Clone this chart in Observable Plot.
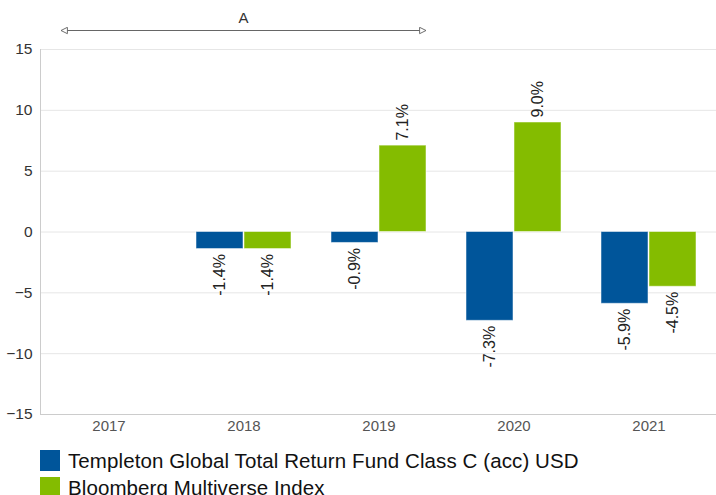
<!DOCTYPE html>
<html><head><meta charset="utf-8">
<script src="https://cdn.jsdelivr.net/npm/d3@7"></script>
<script src="https://cdn.jsdelivr.net/npm/@observablehq/plot@0.6"></script>
<style>
body{margin:0;background:#fff;font-family:"Liberation Sans",Arial,sans-serif;}
#chart svg{display:block}
#legend{margin-left:40px;margin-top:7px}
.item{display:flex;align-items:center;height:27px;font-size:20.5px;color:#111;white-space:nowrap;letter-spacing:0.1px}
.sw{width:20px;height:21px;margin-right:8px;flex:none}
</style></head><body><div id="chart"></div><div id="legend"></div>
<script>
const years = ["2017","2018","2019","2020","2021"];
const fundValues = [null, -1.4, -0.9, -7.3, -5.9];
const indexValues = [null, -1.4, 7.1, 9.0, -4.5];
const seriesNames = ["Templeton Global Total Return Fund Class C (acc) USD", "Bloomberg Multiverse Index"];
const seriesColors = ["#00559a", "#84bc00"];
const yTicks = [-15, -10, -5, 0, 5, 10, 15];
const annotationLabel = "A";
const annotationFrom = "2017";
const annotationTo = "2019";

const fund = years.map((y, i) => ({year: y, value: fundValues[i]})).filter(d => d.value != null);
const index = years.map((y, i) => ({year: y, value: indexValues[i]})).filter(d => d.value != null);
const lbl = d => d.value.toFixed(1) + "%";
const neg = arr => arr.filter(d => d.value < 0);
const pos = arr => arr.filter(d => d.value >= 0);
const textStyle = {fontSize: 16, fill: "#222", rotate: -90};

const plot = Plot.plot({
  width: 716, height: 440,
  marginLeft: 40, marginRight: 0, marginTop: 49, marginBottom: 26,
  style: {fontFamily: "Liberation Sans, Arial, sans-serif", fontSize: "15px", color: "#333", background: "#fff"},
  x: {type: "band", domain: years, padding: 0, label: null},
  y: {domain: [-15, 15], label: null},
  marks: [
    Plot.gridY(yTicks, {stroke: "#e6e6e6", strokeOpacity: 1}),
    Plot.ruleY([-15], {stroke: "#cccccc"}),
    Plot.frame({anchor: "left", stroke: "#cccccc"}),
    Plot.axisY(yTicks, {tickSize: 0, tickPadding: 8, fontSize: 15.5, fill: "#333", label: null}),
    Plot.axisX({tickSize: 0, tickPadding: 6, fontSize: 15, fill: "#555", label: null}),
    Plot.barY(fund, {x: "year", y: "value", fill: seriesColors[0], insetLeft: 20, insetRight: 68, stroke: "#fff", strokeOpacity: 0.5}),
    Plot.barY(index, {x: "year", y: "value", fill: seriesColors[1], insetLeft: 68, insetRight: 20, stroke: "#fff", strokeOpacity: 0.5}),
    Plot.text(neg(fund), {x: "year", y: "value", text: lbl, dx: -24, dy: 5, textAnchor: "end", ...textStyle}),
    Plot.text(pos(fund), {x: "year", y: "value", text: lbl, dx: -24, dy: -5, textAnchor: "start", ...textStyle}),
    Plot.text(neg(index), {x: "year", y: "value", text: lbl, dx: 24, dy: 5, textAnchor: "end", ...textStyle}),
    Plot.text(pos(index), {x: "year", y: "value", text: lbl, dx: 24, dy: -5, textAnchor: "start", ...textStyle})
  ]
});
document.getElementById("chart").appendChild(plot);

// annotation arrow drawn from the plot's x scale
const xs = plot.scale("x");
const ax1 = xs.apply(annotationFrom) + 20;
const ax2 = xs.apply(annotationTo) + xs.bandwidth - 20;
const svg = d3.select(plot);
const defs = svg.append("defs");
["s", "e"].forEach(k => {
  defs.append("marker").attr("id", "tri-" + k)
    .attr("viewBox", "0 0 10 10").attr("refX", k === "e" ? 9 : 1).attr("refY", 5)
    .attr("markerWidth", 8).attr("markerHeight", 8).attr("markerUnits", "userSpaceOnUse")
    .attr("orient", "auto")
    .append("path")
    .attr("d", k === "e" ? "M1,1L9,5L1,9Z" : "M9,1L1,5L9,9Z")
    .attr("fill", "#fff").attr("stroke", "#666").attr("stroke-width", 1.2);
});
svg.append("line").attr("x1", ax1).attr("x2", ax2).attr("y1", 30.5).attr("y2", 30.5)
  .attr("stroke", "#666").attr("stroke-width", 1)
  .attr("marker-start", "url(#tri-s)").attr("marker-end", "url(#tri-e)");
svg.append("text").attr("x", (ax1 + ax2) / 2).attr("y", 18).attr("dy", "0.35em")
  .attr("text-anchor", "middle").attr("font-size", 15).attr("fill", "#333")
  .text(annotationLabel);

// legend
const legend = d3.select("#legend");
seriesNames.forEach((n, i) => {
  const it = legend.append("div").attr("class", "item");
  it.append("div").attr("class", "sw").style("background", seriesColors[i]);
  it.append("span").text(n);
});
</script>
</body></html>
